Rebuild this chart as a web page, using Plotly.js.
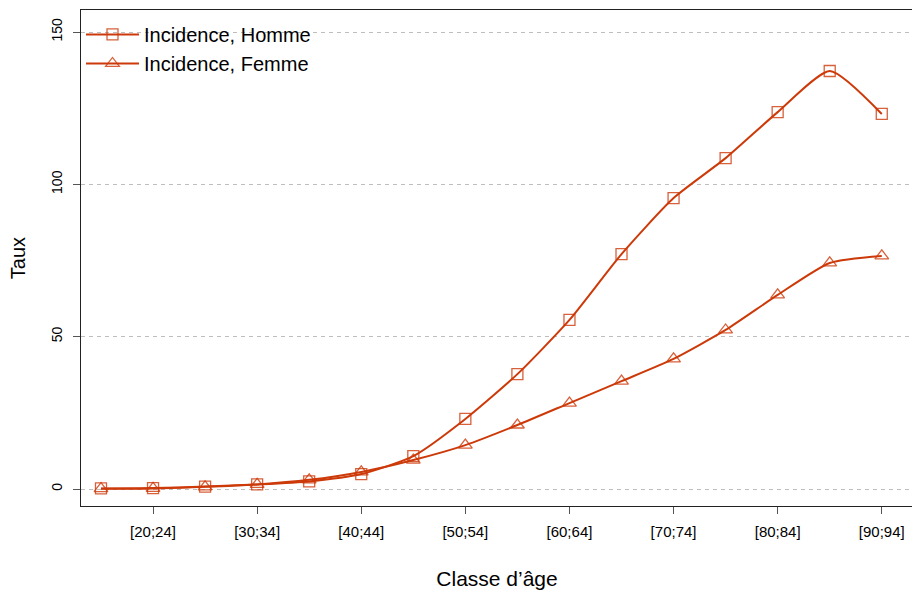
<!DOCTYPE html>
<html>
<head>
<meta charset="utf-8">
<script src="https://cdn.plot.ly/plotly-3.0.1.min.js"></script>
<style>
html,body{margin:0;padding:0;overflow:hidden;background:#fff;}
#chart{width:920px;height:591px;}
</style>
</head>
<body>
<div id="chart"></div>
<script>
const categories = ['[15;19]','[20;24]','[25;29]','[30;34]','[35;39]','[40;44]','[45;49]','[50;54]','[55;59]','[60;64]','[65;69]','[70;74]','[75;79]','[80;84]','[85;89]','[90;94]'];
const tickLabels = ['[20;24]','[30;34]','[40;44]','[50;54]','[60;64]','[70;74]','[80;84]','[90;94]'];
const homme = [0.2,0.3,0.8,1.5,2.5,4.9,10.8,23.0,37.7,55.5,77.1,95.5,108.6,123.7,137.2,123.1];
const femme = [0.1,0.2,0.7,1.5,3.0,5.6,9.5,14.4,21.0,28.2,35.4,42.7,52.2,63.7,74.2,76.5];
const yTicks = [0,50,100,150];

const lineColor = '#CD3A0A';
const markerColor = 'rgba(205,58,10,0.8)';
const font = 'Liberation Sans, Arial, sans-serif';

const traces = [
  {x: categories, y: homme, name: 'Incidence, Homme', type: 'scatter', mode: 'lines+markers',
   line: {color: lineColor, width: 2, shape: 'spline', smoothing: 0.6},
   marker: {symbol: 'square-open', size: 11, color: markerColor, line: {width: 1.3, color: markerColor}}},
  {x: categories, y: femme, name: 'Incidence, Femme', type: 'scatter', mode: 'lines+markers',
   line: {color: lineColor, width: 2, shape: 'spline', smoothing: 0.6},
   marker: {symbol: 'triangle-up-open', size: 12, color: markerColor, line: {width: 1.3, color: markerColor}}}
];

const layout = {
  width: 920, height: 591,
  margin: {l: 81, r: 7, t: 10, b: 85},
  paper_bgcolor: '#fff', plot_bgcolor: '#fff',
  font: {family: font, color: '#000'},
  showlegend: true,
  legend: {x: 0, y: 0.99, xanchor: 'left', yanchor: 'top', bgcolor: 'rgba(0,0,0,0)',
           font: {size: 20, family: font, color: '#000'}, itemwidth: 53, tracegroupgap: 0},
  xaxis: {
    type: 'category', categoryorder: 'array', categoryarray: categories,
    range: [-0.384, 15.6], tickmode: 'array', tickvals: tickLabels, ticktext: tickLabels,
    ticks: 'outside', ticklen: 7, tickcolor: '#555', tickwidth: 1, ticklabelstandoff: 5,
    showline: true, linecolor: '#222', linewidth: 1.2, mirror: true,
    showgrid: false, zeroline: false,
    tickfont: {size: 15, family: font, color: '#000'},
    title: {text: 'Classe d’âge', font: {size: 21, family: font, color: '#000'}, standoff: 32}
  },
  yaxis: {
    range: [-5.58, 157.22], tickmode: 'array', tickvals: yTicks,
    ticks: 'outside', ticklen: 7, tickcolor: '#555', tickwidth: 1, tickangle: -90, ticklabelstandoff: 5,
    showline: true, linecolor: '#222', linewidth: 1.2, mirror: true,
    showgrid: true, gridcolor: '#bdbdbd', gridwidth: 1, griddash: '4px,4px',
    zeroline: false,
    tickfont: {size: 14, family: font, color: '#000'},
    title: {text: 'Taux', font: {size: 20, family: font, color: '#000'}, standoff: 18}
  }
};

Plotly.newPlot('chart', traces, layout, {displayModeBar: false, staticPlot: true});
</script>
</body>
</html>
